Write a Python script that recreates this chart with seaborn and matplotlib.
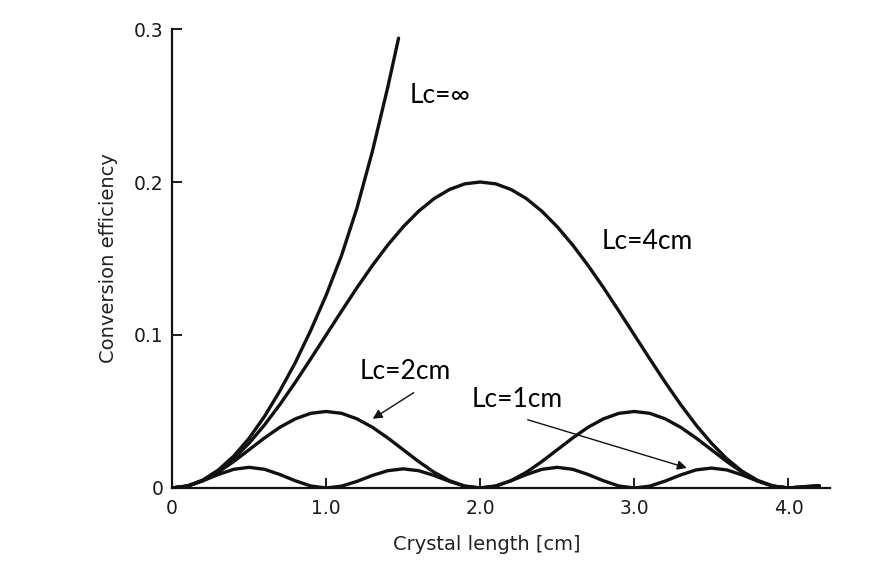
import pandas as pd
import matplotlib.pyplot as plt
import seaborn as sns

# values (crystal length in cm, efficiency)
length = [0.0, 0.1, 0.2, 0.3, 0.4, 0.5, 0.6, 0.7, 0.8, 0.9,
          1.0, 1.1, 1.2, 1.3, 1.4, 1.5, 1.6, 1.7, 1.8, 1.9,
          2.0, 2.1, 2.2, 2.3, 2.4, 2.5, 2.6, 2.7, 2.8, 2.9,
          3.0, 3.1, 3.2, 3.3, 3.4, 3.5, 3.6, 3.7, 3.8, 3.9,
          4.0, 4.1, 4.2]

eff_lc4 = [0.0, 0.0012, 0.0049, 0.0109, 0.0191, 0.0293, 0.0412, 0.0546, 0.0691, 0.0844,
           0.1000, 0.1156, 0.1309, 0.1454, 0.1588, 0.1707, 0.1809, 0.1891, 0.1951, 0.1988,
           0.2000, 0.1988, 0.1951, 0.1891, 0.1809, 0.1707, 0.1588, 0.1454, 0.1309, 0.1156,
           0.1000, 0.0844, 0.0691, 0.0546, 0.0412, 0.0293, 0.0191, 0.0109, 0.0049, 0.0012,
           0.0, 0.0008, 0.0015]

eff_lc2 = [0.0, 0.0012, 0.0048, 0.0103, 0.0173, 0.0250, 0.0327, 0.0397, 0.0452, 0.0488,
           0.0500, 0.0488, 0.0452, 0.0397, 0.0327, 0.0250, 0.0173, 0.0103, 0.0048, 0.0012,
           0.0, 0.0012, 0.0048, 0.0103, 0.0173, 0.0250, 0.0327, 0.0397, 0.0452, 0.0488,
           0.0500, 0.0488, 0.0452, 0.0397, 0.0327, 0.0250, 0.0173, 0.0103, 0.0048, 0.0012,
           0.0, 0.0008, 0.0015]

eff_lc1 = [0.0, 0.0013, 0.0047, 0.0088, 0.0122, 0.0135, 0.0122, 0.0088, 0.0047, 0.0013,
           0.0, 0.0012, 0.0043, 0.0082, 0.0113, 0.0125, 0.0113, 0.0082, 0.0043, 0.0012,
           0.0, 0.0013, 0.0047, 0.0088, 0.0122, 0.0135, 0.0122, 0.0088, 0.0047, 0.0013,
           0.0, 0.0012, 0.0045, 0.0085, 0.0118, 0.0130, 0.0118, 0.0085, 0.0045, 0.0012,
           0.0, 0.0006, 0.0012]

length_inf = [0.0, 0.1, 0.2, 0.3, 0.4, 0.5, 0.6, 0.7, 0.8, 0.9,
              1.0, 1.1, 1.2, 1.3, 1.4, 1.47]
eff_inf = [0.0, 0.0013, 0.0052, 0.0117, 0.0208, 0.0325, 0.0468, 0.0635, 0.0820, 0.1030,
           0.1260, 0.1520, 0.1830, 0.2200, 0.2620, 0.2940]

x_ticks = [0, 1, 2, 3, 4]
x_tick_labels = ["0", "1.0", "2.0", "3.0", "4.0"]
y_ticks = [0, 0.1, 0.2, 0.3]
y_tick_labels = ["0", "0.1", "0.2", "0.3"]

ink = "#111111"

sns.set_style("ticks")
plt.rcParams["font.family"] = ["DejaVu Sans"]

fig = plt.figure(figsize=(8.72, 5.70), dpi=100)
ax = fig.add_axes([0.1973, 0.1439, 0.7546, 0.8052])

df = pd.DataFrame({"length": length, "Lc=4cm": eff_lc4,
                   "Lc=2cm": eff_lc2, "Lc=1cm": eff_lc1})
for col in ["Lc=4cm", "Lc=2cm", "Lc=1cm"]:
    sns.lineplot(ax=ax, x="length", y=col, data=df, color=ink, linewidth=2.4)
sns.lineplot(ax=ax, x=length_inf, y=eff_inf, color=ink, linewidth=2.4)

ax.set_xlim(0, 4.27)
ax.set_ylim(0, 0.3)
ax.set_xticks(x_ticks)
ax.set_xticklabels(x_tick_labels)
ax.set_yticks(y_ticks)
ax.set_yticklabels(y_tick_labels)
ax.tick_params(direction="in", length=7, width=1.4, labelsize=13.5, colors="#1a1a1a")
ax.tick_params(axis="x", pad=8)
ax.tick_params(axis="y", pad=6)
sns.despine(ax=ax)
for side in ["left", "bottom"]:
    ax.spines[side].set_linewidth(1.6)
    ax.spines[side].set_color(ink)

ax.set_xlabel("Crystal length [cm]", fontsize=14, color="#222222")
ax.set_ylabel("Conversion efficiency", fontsize=14, color="#222222")
ax.xaxis.set_label_coords(0.479, -0.102)
ax.yaxis.set_label_coords(-0.082, 0.5)

label_font = ["Lato", "DejaVu Sans"]
ax.text(1.542, 0.2564, "Lc=\u221e", fontsize=19, family=label_font, va="center", ha="left", color="black")
ax.text(2.789, 0.1613, "Lc=4cm", fontsize=19, family=label_font, va="center", ha="left", color="black")
ax.text(1.218, 0.0761, "Lc=2cm", fontsize=19, family=label_font, va="center", ha="left", color="black")
ax.text(1.945, 0.0577, "Lc=1cm", fontsize=19, family=label_font, va="center", ha="left", color="black")

arrow = dict(arrowstyle="-|>", lw=1.0, color=ink, mutation_scale=14, shrinkA=0, shrinkB=0)
ax.annotate("", xy=(1.302, 0.0452), xytext=(1.568, 0.0623), arrowprops=arrow)
ax.annotate("", xy=(3.341, 0.0131), xytext=(2.308, 0.0446), arrowprops=arrow)

fig.savefig("out.png", dpi=100, facecolor="white")
